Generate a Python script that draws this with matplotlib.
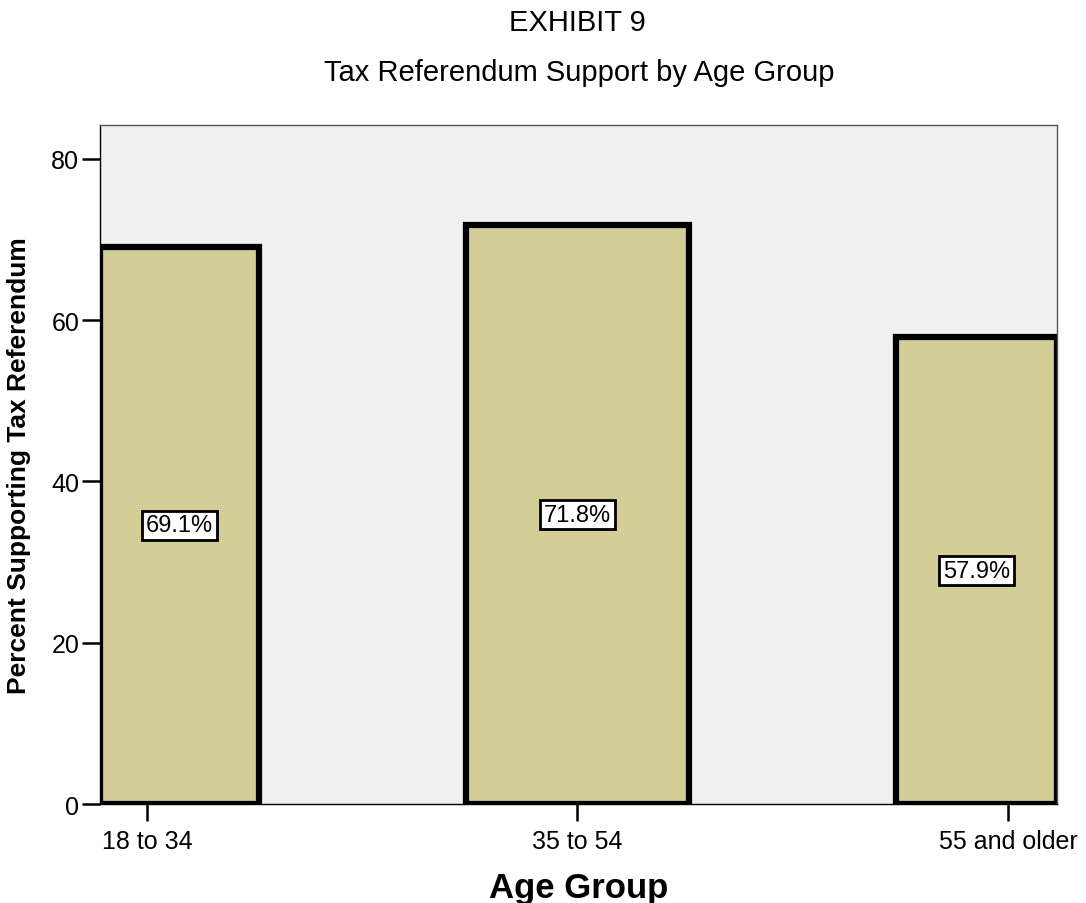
import matplotlib.pyplot as plt

plt.rcParams['font.family'] = ['Liberation Sans', 'DejaVu Sans']

# data
groups = ['18 to 34', '35 to 54', '55 and older']
support = [69.1, 71.8, 57.9]
value_labels = ['69.1%', '71.8%', '57.9%']
y_ticks = [0, 20, 40, 60, 80]

fig = plt.figure(figsize=(10.86, 9.04), dpi=100)
ax = fig.add_axes([0.0921, 0.1095, 0.8812, 0.7511])
ax.set_facecolor('#f0f0f0')

xmin, xmax = -0.109, 2.114
width = 0.52
pos = list(range(len(groups)))

# bars get clipped to the plot area (with full border), like the SPSS output
lefts, widths, mids = [], [], []
for p in pos:
    l = max(p - width / 2, xmin)
    r = min(p + width / 2, xmax)
    lefts.append(l)
    widths.append(r - l)
    mids.append((l + r) / 2)

ax.bar(lefts, support, width=widths, align='edge', color='#d3cd98',
       edgecolor='black', linewidth=4.5, zorder=2)

for m, v, lab in zip(mids, support, value_labels):
    ax.text(m, v / 2, lab, ha='center', va='center', fontsize=17, zorder=3,
            bbox=dict(boxstyle='square,pad=0.15', fc='white', ec='black', lw=2))

ax.set_xlim(xmin, xmax)
ax.set_ylim(0, 84.2)
ax.set_xticks(pos)
ax.set_xticklabels(groups, fontsize=18)
ax.set_yticks(y_ticks)
ax.tick_params(axis='y', labelsize=18, length=13, width=1.8, pad=2)
ax.tick_params(axis='x', length=12, width=1.8, pad=6)

for s in ['left', 'bottom']:
    ax.spines[s].set_color('black')
    ax.spines[s].set_linewidth(1)
for s in ['top', 'right']:
    ax.spines[s].set_color('#555555')
    ax.spines[s].set_linewidth(1)

ax.set_xlabel('Age Group', fontsize=25, fontweight='bold', labelpad=13)
ax.set_ylabel('Percent Supporting Tax Referendum', fontsize=19, fontweight='bold', labelpad=8)
ax.yaxis.set_label_coords(-0.072, 0.5)

fig.text(0.532, 0.975, 'EXHIBIT 9', ha='center', va='center', fontsize=21)
fig.text(0.533, 0.919, 'Tax Referendum Support by Age Group', ha='center', va='center', fontsize=21)

fig.savefig('out.png', dpi=100)
